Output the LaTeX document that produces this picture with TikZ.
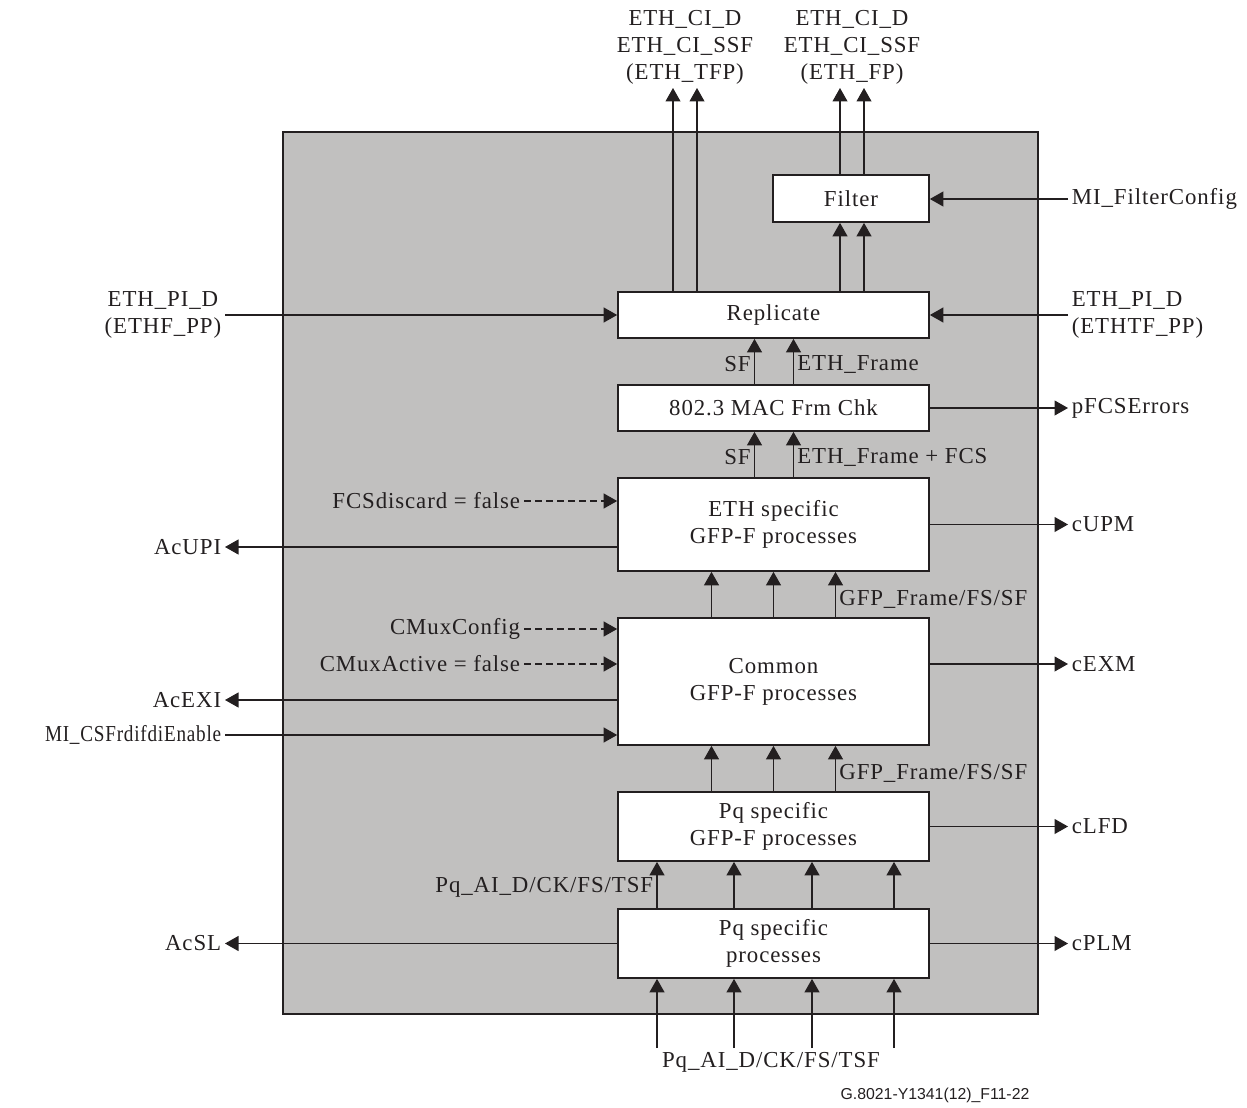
\documentclass[tikz,border=0pt]{standalone}
\usepackage{fontspec}
\setmainfont{Liberation Serif}[LetterSpace=4]
\newfontfamily\figfont{Liberation Sans}
\usepackage{graphicx}
\usepackage{tikz}
\usetikzlibrary{arrows.meta,positioning,calc}
\definecolor{ink}{HTML}{231F20}
\definecolor{shade}{HTML}{C1C0BF}

\begin{document}
\begin{tikzpicture}[x=0.02cm,y=-0.02cm,
  blk/.style={draw=ink,line width=1pt,fill=white,minimum width=6.22cm,inner sep=0pt,
              align=center,text=ink,font=\fontsize{13}{15.4}\selectfont},
  lbl/.style={inner sep=2pt,align=center,text=ink,font=\fontsize{13}{15.4}\selectfont},
  sig/.style={-{Triangle[length=2.7mm,width=3mm]},line width=0.6pt,draw=ink},
  cfg/.style={sig,dash pattern=on 4pt off 2.3pt}
]
\useasboundingbox (0,0) rectangle (1247,1108);
\draw[draw=ink,line width=1.1pt,fill=shade] (283,132) rectangle (1038,1014);

% processing blocks
\node[blk,minimum width=3.12cm,minimum height=0.94cm] (filt) at (851,198.5) {Filter};
\node[blk,minimum height=0.92cm] (rep) at (773.5,315) {Replicate};
\node[blk,minimum height=0.92cm] (mac) at (773.5,408) {802.3 MAC Frm Chk};
\node[blk,minimum height=1.86cm] (ethp) at (773.5,524.5) {ETH specific\\GFP-F processes};
\node[blk,minimum height=2.54cm] (cmn) at (773.5,681.5) {Common\\GFP-F processes};
\node[blk,minimum height=1.38cm] (pqg) at (773.5,826.5) {Pq specific\\GFP-F processes};
\node[blk,minimum height=1.38cm] (pq) at (773.5,943.5) {Pq specific\\processes};

% top outputs
\node[lbl,anchor=south] (tfp) at (685,88) {ETH\_CI\_D\\ETH\_CI\_SSF\\(ETH\_TFP)};
\node[lbl,anchor=south] (fp) at (852,88) {ETH\_CI\_D\\ETH\_CI\_SSF\\(ETH\_FP)};
\foreach \dx in {-12,12}
  \draw[sig] ($(rep.north -| tfp.south)+(\dx,0)$) -- ($(tfp.south)+(\dx,0)$);
\foreach \dx in {-11,13} {
  \draw[sig] ($(filt.north)+(\dx,0)$) -- ($(filt.north |- fp.south)+(\dx,0)$);
  \draw[sig] ($(rep.north -| filt.north)+(\dx,0)$) -- ($(filt.south)+(\dx,0)$);
}

% signals between blocks
\foreach \dx in {-19,20} {
  \draw[sig] ($(mac.north)+(\dx,0)$) -- ($(rep.south)+(\dx,0)$);
  \draw[sig] ($(ethp.north)+(\dx,0)$) -- ($(mac.south)+(\dx,0)$);
}
\node[lbl,anchor=east] (sfa) at ($(mac.north)+(-19,-20)$) {SF};
\node[lbl,anchor=west] (frma) at ($(mac.north)+(20,-20)$) {ETH\_Frame};
\node[lbl,anchor=east] (sfb) at ($(ethp.north)+(-19,-20)$) {SF};
\node[lbl,anchor=west] (frmb) at ($(ethp.north)+(20,-20)$) {ETH\_Frame + FCS};
\foreach \dx in {-62,0,62} {
  \draw[sig] ($(cmn.north)+(\dx,0)$) -- ($(ethp.south)+(\dx,0)$);
  \draw[sig] ($(pqg.north)+(\dx,0)$) -- ($(cmn.south)+(\dx,0)$);
}
\node[lbl,anchor=west] (gfpa) at ($(cmn.north)+(62,-18)$) {GFP\_Frame/FS/SF};
\node[lbl,anchor=west] (gfpb) at ($(pqg.north)+(62,-18)$) {GFP\_Frame/FS/SF};
\node[lbl,anchor=east] (aia) at ($(pq.north)+(-116.5,-21)$) {Pq\_AI\_D/CK/FS/TSF};
\node[lbl,anchor=north] (aib) at (771,1048) {Pq\_AI\_D/CK/FS/TSF};
\foreach \dx in {-116.5,-39.5,38.5,120.5} {
  \draw[sig] ($(pq.north)+(\dx,0)$) -- ($(pqg.south)+(\dx,0)$);
  \draw[sig] ($(aib.north -| pq.south)+(\dx,0)$) -- ($(pq.south)+(\dx,0)$);
}

% left side
\node[lbl,anchor=east] (ethpil) at (225,315) {ETH\_PI\_D\\(ETHF\_PP)};
\node[lbl,anchor=east] (fcsd) at (524,501) {FCSdiscard = false};
\node[lbl,anchor=east] (acupi) at (225,547) {AcUPI};
\node[lbl,anchor=east] (cmuxc) at (524,629) {CMuxConfig};
\node[lbl,anchor=east] (cmuxa) at (524,664) {CMuxActive = false};
\node[lbl,anchor=east] (acexi) at (225,700) {AcEXI};
\node[lbl,anchor=east] (csfen) at (225,735) {\scalebox{0.84}[1]{MI\_CSFrdifdiEnable}};
\node[lbl,anchor=east] (acsl) at (225,943.5) {AcSL};
\draw[sig] (ethpil.east) -- (rep.west);
\draw[cfg] (fcsd.east) -- (ethp.west |- fcsd.east);
\draw[sig] (ethp.west |- acupi.east) -- (acupi.east);
\draw[cfg] (cmuxc.east) -- (cmn.west |- cmuxc.east);
\draw[cfg] (cmuxa.east) -- (cmn.west |- cmuxa.east);
\draw[sig] (cmn.west |- acexi.east) -- (acexi.east);
\draw[sig] (csfen.east) -- (cmn.west |- csfen.east);
\draw[sig] (pq.west) -- (pq.west -| acsl.east);

% right side
\node[lbl,anchor=west,align=left] (fcfg) at (1068,199) {MI\_FilterConfig};
\node[lbl,anchor=west,align=left] (ethpir) at (1068,315) {ETH\_PI\_D\\(ETHTF\_PP)};
\node[lbl,anchor=west,align=left] (pfcs) at (1068,408) {pFCSErrors};
\node[lbl,anchor=west,align=left] (cupm) at (1068,524.5) {cUPM};
\node[lbl,anchor=west,align=left] (cexm) at (1068,664) {cEXM};
\node[lbl,anchor=west,align=left] (clfd) at (1068,826.5) {cLFD};
\node[lbl,anchor=west,align=left] (cplm) at (1068,943.5) {cPLM};
\draw[sig] (fcfg.west) -- (filt.east |- fcfg.west);
\draw[sig] (ethpir.west) -- (rep.east);
\draw[sig] (mac.east) -- (mac.east -| pfcs.west);
\draw[sig] (ethp.east) -- (ethp.east -| cupm.west);
\draw[sig] (cmn.east |- cexm.west) -- (cexm.west);
\draw[sig] (pqg.east) -- (pqg.east -| clfd.west);
\draw[sig] (pq.east) -- (pq.east -| cplm.west);

\node[text=ink,inner sep=0pt,font=\figfont\fontsize{9}{11}\selectfont] (fig) at (935,1095) {G.8021-Y1341(12)\_F11-22};
\end{tikzpicture}
\end{document}
